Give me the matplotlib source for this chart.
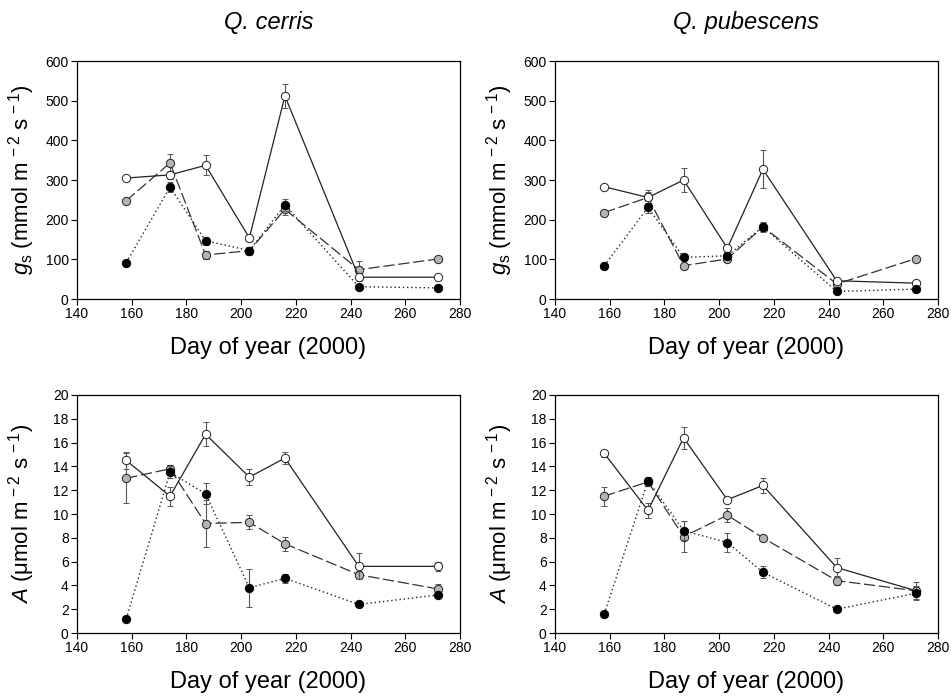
import matplotlib
matplotlib.use("Agg")
import matplotlib.pyplot as plt

plt.rcParams['font.family'] = ['Liberation Sans', 'DejaVu Sans']
plt.rcParams['mathtext.fontset'] = 'custom'
plt.rcParams['mathtext.rm'] = 'Liberation Sans'
plt.rcParams['mathtext.it'] = 'Liberation Sans:italic'

days = [158, 174, 187, 203, 216, 243, 272]

# stomatal conductance, Q. cerris
cer_gs_white = [305, 313, 337, 154, 512, 55, 55]
cer_gs_white_err = [5, 10, 25, 8, 30, 10, 5]
cer_gs_grey = [248, 343, 111, 122, 226, 74, 101]
cer_gs_grey_err = [5, 22, 10, 8, 15, 22, 5]
cer_gs_black = [92, 282, 147, 122, 237, 31, 28]
cer_gs_black_err = [5, 12, 10, 10, 16, 5, 3]

# stomatal conductance, Q. pubescens
pub_gs_white = [283, 256, 300, 128, 327, 46, 40]
pub_gs_white_err = [5, 18, 31, 8, 48, 5, 5]
pub_gs_grey = [218, 256, 84, 101, 182, 38, 102]
pub_gs_grey_err = [5, 15, 5, 8, 10, 5, 5]
pub_gs_black = [84, 231, 105, 109, 182, 19, 25]
pub_gs_black_err = [3, 15, 8, 10, 12, 3, 3]

# assimilation, Q. cerris
cer_A_white = [14.5, 11.5, 16.7, 13.1, 14.7, 5.6, 5.6]
cer_A_white_err = [0.7, 0.8, 1.0, 0.7, 0.5, 1.1, 0.4]
cer_A_grey = [13.0, 13.8, 9.2, 9.3, 7.5, 4.9, 3.7]
cer_A_grey_err = [2.1, 0.3, 2.0, 0.6, 0.6, 0.3, 0.4]
cer_A_black = [1.2, 13.5, 11.7, 3.8, 4.6, 2.4, 3.2]
cer_A_black_err = [0.1, 0.5, 0.9, 1.6, 0.4, 0.2, 0.2]

# assimilation, Q. pubescens
pub_A_white = [15.1, 10.3, 16.4, 11.2, 12.4, 5.5, 3.55]
pub_A_white_err = [0.3, 0.6, 0.9, 0.2, 0.6, 0.8, 0.7]
pub_A_grey = [11.5, 12.7, 8.1, 9.9, 8.0, 4.4, 3.55]
pub_A_grey_err = [0.8, 0.3, 1.3, 0.6, 0.2, 0.4, 0.3]
pub_A_black = [1.6, 12.8, 8.6, 7.6, 5.1, 2.0, 3.35]
pub_A_black_err = [0.1, 0.3, 0.8, 0.8, 0.5, 0.2, 0.6]

gs_label = r'$g_\mathrm{s}$ (mmol m$^{\,-2}$ s$^{\,-1}$)'
A_label = r'$A$ ($\mathrm{\mu}$mol m$^{\,-2}$ s$^{\,-1}$)'

fig = plt.figure(figsize=(9.51, 6.98), dpi=100)
fig.patch.set_facecolor('white')

left_x, right_x, w = 0.081, 0.5836, 0.4027
top_y, bot_y, h = 0.5716, 0.0931, 0.341

panels = [
    (left_x, top_y, cer_gs_white, cer_gs_white_err, cer_gs_grey, cer_gs_grey_err,
     cer_gs_black, cer_gs_black_err, 600, 100, gs_label),
    (right_x, top_y, pub_gs_white, pub_gs_white_err, pub_gs_grey, pub_gs_grey_err,
     pub_gs_black, pub_gs_black_err, 600, 100, gs_label),
    (left_x, bot_y, cer_A_white, cer_A_white_err, cer_A_grey, cer_A_grey_err,
     cer_A_black, cer_A_black_err, 20, 2, A_label),
    (right_x, bot_y, pub_A_white, pub_A_white_err, pub_A_grey, pub_A_grey_err,
     pub_A_black, pub_A_black_err, 20, 2, A_label),
]

for x0, y0, wv, we, gv, ge, bv, be, ymax, ystep, ylab in panels:
    ax = fig.add_axes([x0, y0, w, h])
    err_kw = dict(ecolor='#555555', elinewidth=0.8, capsize=2.5, capthick=0.8)
    ax.errorbar(days, gv, yerr=ge, color='#333333', lw=0.9, dashes=(9, 3),
                marker='o', ms=6, mfc='#b4b4b4', mec='#222222', mew=0.7,
                zorder=2, **err_kw)
    ax.errorbar(days, wv, yerr=we, color='#222222', lw=0.9, ls='-',
                marker='o', ms=6, mfc='white', mec='#222222', mew=0.7,
                zorder=3, **err_kw)
    ax.errorbar(days, bv, yerr=be, color='#222222', lw=1.0, dashes=(1, 2),
                marker='o', ms=6, mfc='black', mec='black', mew=0.7,
                zorder=4, **err_kw)
    ax.set_xlim(140, 280)
    ax.set_ylim(0, ymax)
    ax.set_xticks(range(140, 281, 20))
    ax.set_yticks(range(0, ymax + 1, ystep))
    ax.tick_params(direction='out', length=4, width=0.8, labelsize=10,
                   top=False, right=False, pad=2)
    for s in ax.spines.values():
        s.set_linewidth(0.9)
    ax.set_xlabel('Day of year (2000)', fontsize=17, labelpad=11)
    ax.set_ylabel(ylab, fontsize=16)
    ax.yaxis.set_label_coords(-0.105, 0.5)

fig.text(left_x + w / 2, 1 - 22 / 698, 'Q. cerris', fontsize=17,
         style='italic', ha='center', va='center')
fig.text(right_x + w / 2, 1 - 22 / 698, 'Q. pubescens', fontsize=17,
         style='italic', ha='center', va='center')

fig.savefig('out.png', dpi=100, facecolor='white')
